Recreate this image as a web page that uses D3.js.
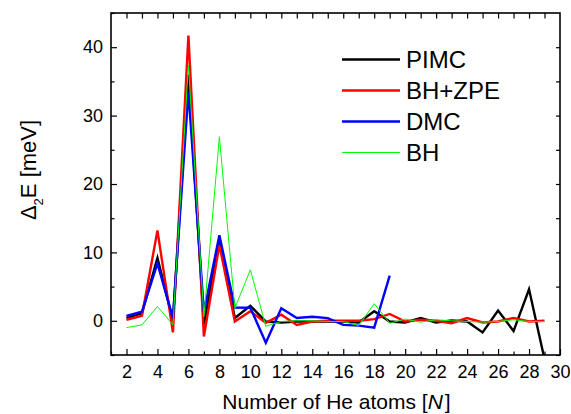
<!DOCTYPE html>
<html>
<head>
<meta charset="utf-8">
<script src="https://cdn.jsdelivr.net/npm/d3@7"></script>
<style>
  body { margin: 0; background: #fff; }
  svg { font-family: "Liberation Sans", Arial, sans-serif; }
</style>
</head>
<body>
<div class="container"></div>
<script>
var width = 571,
    height = 414,
    margin = {left: 111, right: 11, top: 13, bottom: 59};

// data
var nAll = [2, 3, 4, 5, 6, 7, 8, 9, 10, 11, 12, 13, 14, 15, 16, 17, 18, 19, 20,
            21, 22, 23, 24, 25, 26, 27, 28, 29];
var nDmc = [2, 3, 4, 5, 6, 7, 8, 9, 10, 11, 12, 13, 14, 15, 16, 17, 18, 19];
var pimc = [0.4, 1.1, 9.2, 0.0, 36, -0.5, 11.8, 0.4, 2.2, -0.1, -0.25, -0.1, -0.1, -0.1,
            -0.1, -0.25, 1.4, -0.1, -0.25, 0.4, -0.25, 0.05, -0.1, -1.7, 1.5, -1.5, 4.6, -5.6];
var bhZpe = [0.15, 0.75, 13.2, -1.7, 41.7, -2.3, 11.1, -0.1, 1.4, -0.3, 0.9, -0.6, -0.1, 0,
             0, 0, 0.25, 1.0, -0.1, 0.15, 0, -0.35, 0.4, -0.25, -0.1, 0.4, -0.1, 0];
var dmc = [0.7, 1.35, 8.4, 0.4, 33.5, 1.3, 12.5, 1.95, 1.9, -3.2, 1.85, 0.4, 0.6, 0.4,
           -0.6, -0.7, -1.0, 6.6];
var bh = [-1.0, -0.6, 2.1, -0.6, 37.4, 0.6, 26.9, 1.85, 7.45, -0.8, -0.1, 0, 0, -0.1,
          -0.1, -0.7, 2.5, -0.35, 0.25, -0.2, 0.15, 0, -0.1, -0.2, -0.1, 0.15, -0.1, -0.1];
var xTicks = [2, 4, 6, 8, 10, 12, 14, 16, 18, 20, 22, 24, 26, 28, 30];
var yTicks = [0, 10, 20, 30, 40];

var series = [
    {name: 'PIMC', n: nAll, v: pimc, color: '#000000', w: 2.4},
    {name: 'BH+ZPE', n: nAll, v: bhZpe, color: '#ff0000', w: 2.4},
    {name: 'DMC', n: nDmc, v: dmc, color: '#0000ff', w: 2.4},
    {name: 'BH', n: nAll, v: bh, color: '#00ff00', w: 1}
];

var svg = d3.select('.container').append('svg')
    .attr('width', width)
    .attr('height', height);

var x = d3.scaleLinear().domain([1, 30]).range([margin.left, width - margin.right]);
var y = d3.scaleLinear().domain([-5, 45]).range([height - margin.bottom, margin.top]);

svg.append('clipPath').attr('id', 'plot')
  .append('rect')
    .attr('x', x(1)).attr('y', y(45))
    .attr('width', x(30) - x(1)).attr('height', y(-5) - y(45));

var line = d3.line()
    .x((d) => x(d[0]))
    .y((d) => y(d[1]));

var lines = svg.append('g').attr('clip-path', 'url(#plot)');
series.forEach((s) => {
    lines.append('path')
        .attr('d', line(s.n.map((n, i) => [n, s.v[i]])))
        .attr('fill', 'none')
        .attr('stroke', s.color)
        .attr('stroke-width', s.w)
        .attr('stroke-linejoin', 'miter');
});

// axes, ticks pointing inwards
var minorX = d3.range(1, 31).filter((d) => xTicks.indexOf(d) < 0);
var minorY = [-5, 5, 15, 25, 35, 45];

svg.append('g')
    .attr('transform', 'translate(0,' + y(-5) + ')')
    .call(d3.axisBottom(x).tickValues(xTicks).tickSize(-6).tickPadding(10).tickSizeOuter(0))
    .call((g) => g.select('.domain').remove());
svg.append('g')
    .attr('transform', 'translate(0,' + y(-5) + ')')
    .call(d3.axisBottom(x).tickValues(minorX).tickSize(-3.5).tickFormat('').tickSizeOuter(0))
    .call((g) => g.select('.domain').remove());

svg.append('g')
    .attr('transform', 'translate(0,' + y(45) + ')')
    .call(d3.axisTop(x).tickValues(d3.range(2, 30)).tickSize(-5.5).tickFormat('').tickSizeOuter(0))
    .call((g) => g.select('.domain').remove());

svg.append('g')
    .attr('transform', 'translate(' + x(1) + ',0)')
    .call(d3.axisLeft(y).tickValues(yTicks).tickSize(-6).tickPadding(8).tickSizeOuter(0))
    .call((g) => g.select('.domain').remove());
svg.append('g')
    .attr('transform', 'translate(' + x(1) + ',0)')
    .call(d3.axisLeft(y).tickValues(minorY).tickSize(-3.5).tickFormat('').tickSizeOuter(0))
    .call((g) => g.select('.domain').remove());

svg.append('g')
    .attr('transform', 'translate(' + x(30) + ',0)')
    .call(d3.axisRight(y).tickValues([-5, 0, 5, 10, 15, 20, 25, 30, 35, 40]).tickSize(-4).tickFormat('').tickSizeOuter(0))
    .call((g) => g.select('.domain').remove());

svg.selectAll('.tick line').attr('stroke', '#000').attr('stroke-width', 1.2);
svg.selectAll('.tick text')
    .attr('fill', '#000')
    .style('font-size', '18px')
    .style('font-family', '"Liberation Sans", Arial, sans-serif');

svg.append('rect')
    .attr('x', x(1)).attr('y', y(45))
    .attr('width', x(30) - x(1)).attr('height', y(-5) - y(45))
    .attr('fill', 'none')
    .attr('stroke', '#000')
    .attr('stroke-width', 1.6);

// axis titles
var xt = svg.append('text')
    .attr('x', (x(1) + x(30)) / 2 + 1)
    .attr('y', 409)
    .attr('text-anchor', 'middle')
    .style('font-size', '21px');
xt.append('tspan').text('Number of He atoms [');
xt.append('tspan').style('font-style', 'italic').text('N');
xt.append('tspan').attr('dx', 2).text(']');

var yt = svg.append('text')
    .attr('transform', 'translate(36,' + 170 + ') rotate(-90)')
    .attr('text-anchor', 'middle')
    .style('font-size', '22px');
yt.append('tspan').text('\u0394');
yt.append('tspan').attr('dy', 7).style('font-size', '13px').text('2');
yt.append('tspan').attr('dy', -7).text('E [meV]');

// legend
var legend = svg.append('g');
series.forEach((s, i) => {
    var ly = 59.5 + i * 31;
    legend.append('line')
        .attr('x1', 342).attr('x2', 400)
        .attr('y1', ly).attr('y2', ly)
        .attr('stroke', s.color)
        .attr('stroke-width', s.w);
    legend.append('text')
        .attr('x', 406)
        .attr('y', ly)
        .attr('dy', '0.36em')
        .style('font-size', '24px')
        .text(s.name);
});
</script>
</body>
</html>
